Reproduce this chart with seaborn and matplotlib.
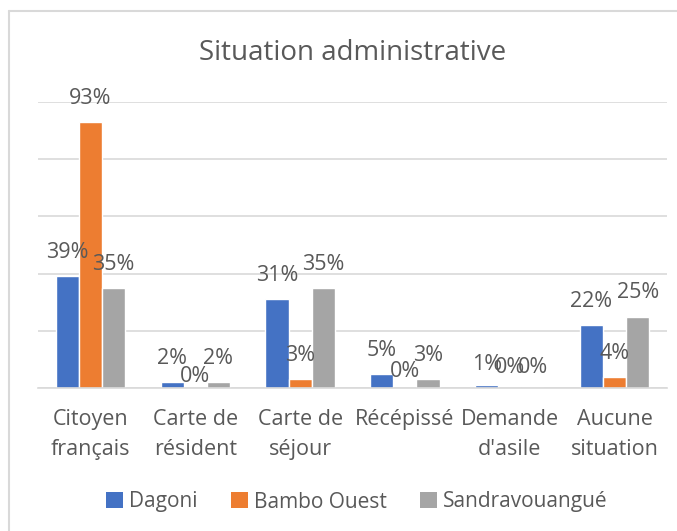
import matplotlib
matplotlib.use("Agg")
import matplotlib.pyplot as plt
from matplotlib.lines import Line2D
from matplotlib.patches import Patch
import seaborn as sns
import pandas as pd

# Categories (x axis) and percentage values per commune
categories = ["Citoyen\nfrançais", "Carte de\nrésident", "Carte de\nséjour",
              "Récépissé", "Demande\nd'asile", "Aucune\nsituation"]
series = ["Dagoni", "Bambo Ouest", "Sandravouangué"]
dagoni = [39, 2, 31, 5, 1, 22]
bambo_ouest = [93, 0, 3, 0, 0, 4]
sandravouangue = [35, 2, 35, 3, 0, 25]
title = "Situation administrative"

colors = ["#4472C4", "#ED7D31", "#A5A5A5"]
text_color = "#595959"
grid_color = "#D9D9D9"

sns.set_theme(style="white")
plt.rcParams["font.family"] = ["Open Sans", "DejaVu Sans"]

values = [dagoni, bambo_ouest, sandravouangue]
df = pd.DataFrame({
    "categorie": categories * len(series),
    "serie": [s for s in series for _ in categories],
    "valeur": [v for vals in values for v in vals],
})

W, H = 677, 531
fig = plt.figure(figsize=(W / 100, H / 100), dpi=100)
ax = fig.add_axes([38 / W, 1 - 388 / H, (667 - 38) / W, (388 - 102) / H])

sns.barplot(data=df, x="categorie", y="valeur", hue="serie", order=categories,
            hue_order=series, palette=colors, width=0.66, saturation=1,
            ax=ax, legend=False)

ax.set_ylim(0, 100)
ax.set_xlim(-0.5, len(categories) - 0.5)
ax.set_yticks([0, 20, 40, 60, 80, 100])
ax.set_yticklabels([])
ax.tick_params(axis="y", length=0)
ax.tick_params(axis="x", length=0, pad=15, labelsize=15.5, labelcolor=text_color)
for lbl in ax.get_xticklabels():
    lbl.set_linespacing(1.6)
ax.grid(axis="y", color=grid_color, linewidth=1.2)
ax.set_axisbelow(True)
for side in ["top", "right", "left"]:
    ax.spines[side].set_visible(False)
ax.spines["bottom"].set_color(grid_color)
ax.spines["bottom"].set_linewidth(1.2)
ax.set_xlabel("")
ax.set_ylabel("")

# Value labels above each bar (gap in pixels between bar top and text)
gap_px = {(1, 1): 6, (3, 1): 11, (4, 0): 15, (4, 1): 15, (4, 2): 15}
for s_idx, container in enumerate(ax.containers):
    for c_idx, bar in enumerate(container):
        v = values[s_idx][c_idx]
        gap = gap_px.get((c_idx, s_idx), 18)
        ax.annotate(f"{v}%", (bar.get_x() + bar.get_width() / 2, v),
                    xytext=(0, gap * 0.72), textcoords="offset points",
                    ha="center", va="baseline", fontsize=15.5,
                    color=text_color, annotation_clip=False)

fig.text(0.5 * (38 + 667) / W, 1 - 53 / H, title, ha="center", va="center",
         fontsize=20, color=text_color)

handles = [Patch(facecolor=c, edgecolor="none") for c in colors]
fig.legend(handles, series, loc="center", bbox_to_anchor=(357 / W, 1 - 502 / H),
           ncol=3, frameon=False, fontsize=15, labelcolor=text_color,
           handlelength=0.8, handleheight=0.8, handletextpad=0.3,
           columnspacing=1.6)

# Chart area border (left and top edges)
fig.add_artist(Line2D([8.5 / W, 8.5 / W], [0, 1 - 11 / H], color=grid_color,
                      linewidth=1.5, transform=fig.transFigure))
fig.add_artist(Line2D([8.5 / W, 1], [1 - 11 / H, 1 - 11 / H], color=grid_color,
                      linewidth=1.5, transform=fig.transFigure))

fig.savefig("out.png", dpi=100, facecolor="white")
